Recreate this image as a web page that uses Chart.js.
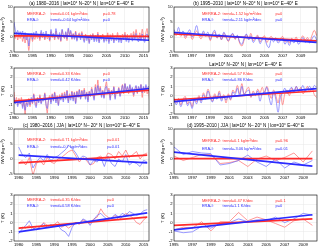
<!DOCTYPE html>
<html>
<head>
<meta charset="utf-8">
<script src="https://cdn.jsdelivr.net/npm/chart.js@4.4.0/dist/chart.umd.min.js"></script>
<style>
body { margin: 0; background: #fff; width: 320px; height: 247px; overflow: hidden; position: relative; }
canvas { position: absolute; }
</style>
</head>
<body>
<canvas id="aIwv" width="160" height="60" style="left:0;top:0"></canvas>
<canvas id="bIwv" width="160" height="60" style="left:160px;top:0"></canvas>
<canvas id="aT" width="160" height="61" style="left:0;top:61px"></canvas>
<canvas id="bT" width="160" height="61" style="left:160px;top:61px"></canvas>
<canvas id="cIwv" width="160" height="60" style="left:0;top:122px"></canvas>
<canvas id="dIwv" width="160" height="60" style="left:160px;top:122px"></canvas>
<canvas id="cT" width="160" height="59" style="left:0;top:188px"></canvas>
<canvas id="dT" width="160" height="59" style="left:160px;top:188px"></canvas>
<script>
// tick labels
var ticks1980 = [1980, 1985, 1990, 1995, 2000, 2005, 2010, 2015];
var ticks1995 = [1995, 1997, 1999, 2001, 2003, 2005, 2007, 2009];
var ticksIwv = [-5, 0, 5, 10];
var ticksT = [-2, -1, 0, 1, 2, 3];

// (a) 1980-2016, 3 values per year, IWV anomalies (kg m-2)
var aIwvMerra = [0.5,-0.5,1.5, -1.0,0.8,-0.5, 1.2,-1.5,0.3, -2.0,0.5,-1.0, -4.5,-1.0,0.8, -1.5,0.2,-0.8,
  1.0,-0.5,0.6, -1.2,1.5,-0.3, 0.8,-1.0,1.2, -0.6,0.4,-1.4, 1.8,-0.2,0.9, -1.0,2.0,0.2,
  -0.8,1.0,-1.5, 2.2,0.3,-0.5, 1.5,-1.2,2.5, 0.5,1.8,-0.8, 1.2,-0.4,2.0, -1.0,0.6,1.4,
  -0.5,1.8,0.2, -1.2,1.0,-0.6, 0.4,-1.8,0.8, -0.5,1.2,-1.0, 0.6,-0.8,1.6, -1.5,0.5,-0.2,
  1.0,-1.2,0.3, -0.8,1.4,-1.5, 0.8,-0.6,1.2, -1.4,0.5,-0.5, 1.5,-1.0,0.6, -1.2,1.0,-0.4,
  1.6,-0.8,0.9, -1.0,0.4,1.2, -0.6,1.8,-0.3, 2.5,0.2,-0.8, 1.4,-0.5,2.6, 0.3,-1.0,1.5, 2.8,-0.4,0.6];
var aIwvEra = [5.0,2.5,1.0, 2.2,0.5,1.8, 0.8,2.0,-0.5, 1.5,-1.0,0.8, -3.0,0.5,1.2, -0.8,1.5,0.2,
  2.0,0.4,1.0, -0.5,2.2,0.8, 1.5,-0.5,2.0, 0.2,1.0,-1.0, 2.5,0.5,1.2, -0.4,2.8,0.6,
  -0.5,1.5,-1.2, 2.6,0.8,-0.2, 1.8,-0.6,3.0, 0.8,2.2,-0.5, 1.0,-0.8,1.6, -1.4,0.2,1.0,
  -1.0,1.2,-0.5, -1.8,0.6,-1.2, 0.0,-2.2,0.4, -1.0,0.8,-1.6, 0.2,-1.5,1.0, -2.0,-0.2,-0.8,
  0.4,-1.8,-0.4, -1.4,0.6,-2.2, 0.0,-1.2,0.5, -2.0,-0.3,-1.2, 0.6,-1.8,-0.2, -2.0,0.2,-1.0,
  0.8,-1.5,0.0, -1.8,-0.4,0.4, -1.4,0.8,-1.0, 1.2,-0.8,-1.6, 0.4,-1.2,1.0, -0.6,-1.8,0.5, 1.0,-1.0,-0.4];
var aIwvTrendMerra = [0.4, 0.2];
var aIwvTrendEra = [1.2, -1.1];

// (a) T anomalies (K)
var aTMerra = [0.4,-0.8,-0.2, -1.0,-0.3,-0.9, -0.2,-1.2,-0.5, -2.0,-0.6,-1.0, -0.3,-1.2,-0.4, -0.9,0.2,-0.6,
  -1.1,-0.2,-0.7, 0.1,-0.8,-0.3, -0.5,0.3,-1.0, -1.9,-0.4,0.0, -0.7,0.2,-0.5, 0.4,-0.6,0.0,
  -1.0,0.1,-0.4, 0.3,-0.5,0.4, -0.2,0.6,-0.6, 0.2,-0.3,0.5, -0.4,0.4,-0.8, 0.5,0.0,0.7,
  -0.3,0.6,0.1, 0.8,-0.2,0.4, -0.5,0.5,0.0, 0.9,0.2,-0.3, 1.2,0.3,1.7, 0.5,1.0,0.0,
  0.6,-0.2,0.9, 1.5,0.4,0.8, -0.3,0.6,0.2, 1.0,-0.2,0.5, 0.3,0.9,0.0, 0.6,1.2,0.2,
  1.3,0.5,0.9, 0.2,1.1,0.4, 0.8,-0.1,0.6, 1.0,0.2,0.9, 0.4,1.2,-0.2, 0.9,0.3,1.0, 0.2,0.6,-0.6];
var aTEra = [-0.2,-0.9,-0.5, -1.2,-0.6,-0.9, -0.5,-1.4,-0.7, -1.6,-0.8,-1.2, -0.4,-1.0,-0.2, -0.8,0.1,-0.9,
  -1.3,-0.3,-0.8, -0.1,-0.9,-0.5, -0.6,0.2,-1.0, -1.4,-0.5,-0.2, -0.9,0.1,-0.6, 0.3,-0.8,-0.2,
  -1.1,-0.1,-0.5, 0.1,-0.7,0.2, -0.4,0.5,-0.8, 0.0,-0.5,0.4, -0.6,0.3,-0.9, 0.4,-0.2,0.6,
  -0.4,0.5,0.0, 0.6,-0.4,0.3, -0.7,0.4,-0.1, 0.7,0.1,-0.5, 0.9,0.1,1.1, 0.3,0.8,-0.2,
  0.5,-0.3,0.8, 1.0,0.2,0.6, -0.5,0.5,0.1, 0.9,-0.4,0.4, 0.2,0.8,-0.1, 0.5,1.1,0.3,
  1.3,0.6,1.0, 0.4,1.2,0.5, 0.9,0.1,0.7, 1.1,0.3,1.0, 0.6,1.2,0.3, 1.0,0.5,1.2, 0.7,1.0,0.8];
var aTTrendMerra = [-0.6, 0.6];
var aTTrendEra = [-0.75, 0.78];

// (b) 1995-2010, 4 values per year
var bIwvMerra = [1.5,0.5,1.8,0.2, 1.2,-0.5,0.8,1.5, -0.8,0.6,2.0,0.4, -0.6,1.4,0.2,1.0,
  -1.2,0.8,1.6,-0.4, 0.6,-1.0,1.2,0.2, -1.5,0.0,1.0,-0.8, 0.4,-2.0,-3.0,-1.0,
  0.8,-0.5,1.2,-1.2, -0.2,0.6,-1.6,-0.4, 0.4,-1.8,-0.6,0.2, -1.0,-0.2,-1.4,-0.6,
  0.2,-1.6,-0.8,-2.0, -0.4,-1.2,0.0,-1.6, -0.6,0.4,-1.0,-0.2, -1.2,0.6,2.2,0.5];
var bIwvEra = [2.5,1.0,3.2,0.8, 2.0,0.2,1.4,2.4, 0.0,1.5,3.8,1.0, 0.2,2.0,0.8,1.6,
  -0.8,1.2,2.2,-0.2, 1.0,-0.8,1.6,0.0, -1.2,0.4,1.2,-0.6, 0.6,-1.6,-2.4,-0.4,
  1.0,-1.0,0.4,-1.8, -0.8,0.2,-2.2,-1.0, -0.4,-2.6,-3.5,-0.8, -1.6,-0.6,-2.0,-1.2,
  -0.4,-2.4,-1.4,-2.8, -1.0,-2.0,-0.6,-2.4, -1.4,-0.2,-1.8,-0.8, -2.0,-0.6,0.4,-1.0];
var bIwvTrendMerra = [1.0, -1.3];
var bIwvTrendEra = [1.5, -1.8];

var bTMerra = [-0.2,-0.8,-0.3,-1.0, -0.4,-0.1,-0.9,-0.5, -1.2,-0.3,-0.7,0.0, -0.6,0.3,-0.2,0.7,
  0.0,-0.6,0.2,-0.3, 0.5,-0.4,0.1,-0.8, 0.2,-0.5,0.6,0.3, 1.1,0.2,1.3,0.0,
  0.6,0.9,-0.2,0.5, 0.1,0.7,0.3,0.9, 0.2,1.0,0.4,-0.3, 0.6,0.0,-0.8,0.3,
  -1.0,0.2,0.6,0.0, 0.8,0.3,1.0,0.4, 0.9,0.2,0.6,1.0, 0.4,0.8,0.1,-0.2];
var bTEra = [-0.4,-1.0,-0.5,-1.2, -0.6,-0.3,-1.1,-0.7, -1.4,-0.5,-0.9,-0.2, -0.8,0.1,-0.4,0.5,
  -0.2,-0.7,0.0,-0.4, 0.3,-0.6,-0.1,-0.5, 0.0,-0.4,0.4,0.1, 0.8,0.0,1.0,0.2,
  0.4,0.6,-0.1,0.3, 0.0,0.5,-0.6,0.2, 0.4,0.9,-0.2,-1.0, 0.4,-0.4,-1.8,-0.2,
  0.3,0.8,0.2,0.6, 0.9,0.4,1.0,0.6, 0.7,1.1,0.5,0.8, 1.0,0.6,1.1,0.9];
var bTTrendMerra = [-0.45, 0.5];
var bTTrendEra = [-0.65, 0.75];

// (c) JJA 1980-2016, one value per year
var cIwvMerra = [-1.5,-0.5,-2.0,0.5,-5.5,-1.5,-0.5,-2.0,0.5,-1.0,-1.5,0.0,0.5,1.5,2.5,3.0,1.0,-1.0,0.5,
  -0.5,-2.0,-1.5,0.5,1.0,-0.5,2.0,1.5,0.0,2.5,1.0,3.0,0.5,1.5,2.5,0.0,1.5,2.0];
var cIwvEra = [4.0,1.5,0.5,2.0,-3.0,-1.0,0.5,-0.5,1.5,-0.5,0.5,1.0,2.0,3.0,4.5,3.5,2.0,0.0,1.0,
  0.5,-2.0,-0.5,-1.0,0.5,-2.5,1.0,-1.5,-2.5,0.0,-1.0,1.5,-2.0,-1.0,-1.5,-2.5,-0.5,-1.0];
var cIwvTrendMerra = [-1.3, 1.3];
var cIwvTrendEra = [1.3, -1.3];

var cTMerra = [-0.7,-0.5,-0.6,-0.3,-0.8,-0.4,-0.5,0.0,-0.3,-0.4,-0.2,0.1,-0.5,-0.3,-0.6,-0.3,0.0,-0.2,0.3,
  0.1,-0.1,0.4,0.6,1.5,0.9,0.6,0.4,0.8,0.3,0.6,1.0,0.8,0.5,0.0,-0.2,0.3,0.6];
var cTEra = [-1.2,-0.7,-0.3,0.2,-0.6,-0.8,-0.4,-0.1,-0.5,-0.2,-0.4,-0.3,-0.8,-1.0,-1.5,-0.5,0.0,-0.1,0.4,
  0.2,-0.3,0.3,0.8,1.0,0.6,0.3,0.5,0.9,0.6,1.0,0.8,1.2,1.0,0.8,0.9,1.3,1.4];
var cTTrendMerra = [-0.6, 0.6];
var cTTrendEra = [-1.0, 1.05];

// (d) JJA 1995-2010, one value per year
var dIwvMerra = [1.0,-0.5,0.5,1.5,1.5,-1.5,-1.2,-0.5,-2.5,0.0,1.0,-0.5,0.5,2.0,-1.0,2.7];
var dIwvEra = [4.0,1.5,2.5,2.0,1.8,-2.0,-1.5,-0.5,1.3,-1.0,-2.5,0.0,-3.0,-1.0,-2.0,-0.5];
var dIwvTrendMerra = [0.1, 0.1];
var dIwvTrendEra = [2.3, -2.4];

var dTMerra = [-0.8,-0.5,-0.6,0.1,-0.9,0.1,0.1,1.1,0.2,0.6,0.3,-0.1,-0.5,0.2,0.4,-0.3];
var dTEra = [-0.9,-1.1,-1.0,-0.4,-0.6,-0.1,0.0,0.4,0.1,0.3,0.2,0.6,0.0,0.4,1.0,0.8];
var dTTrendMerra = [-0.3, 0.4];
var dTTrendEra = [-0.8, 0.85];

var RED = '#ff2b2b', BLUE = '#2b2bff';
var FONT = '"Liberation Sans", Arial, sans-serif';

function series(start, perYear, values) {
	return values.map(function (v, i) { return { x: start + i / perYear, y: v }; });
}

var panelText = {
	id: 'panelText',
	afterDraw: function (chart, args, o) {
		var ctx = chart.ctx, a = chart.chartArea;
		var w = a.right - a.left, h = a.bottom - a.top;
		ctx.save();
		ctx.strokeStyle = '#000';
		ctx.lineWidth = 0.6;
		ctx.strokeRect(a.left, a.top, w, h);
		ctx.font = '4px ' + FONT;
		ctx.textBaseline = 'middle';
		ctx.textAlign = 'left';
		(o.rows || []).forEach(function (r) {
			ctx.fillStyle = r.color;
			ctx.fillText(r.name, a.left + o.cols[0] * w, a.top + r.y * h);
			ctx.fillText(r.trend, a.left + o.cols[1] * w, a.top + r.y * h);
			ctx.fillText(r.p, a.left + o.cols[2] * w, a.top + r.y * h);
		});
		if (o.title) {
			ctx.fillStyle = '#000';
			ctx.textAlign = 'center';
			ctx.textBaseline = 'bottom';
			ctx.font = '4.6px ' + FONT;
			ctx.fillText(o.title, a.left + w / 2, a.top - 1);
		}
		ctx.restore();
	}
};

function panel(id, p) {
	var t0 = p.data[0][0].x, t1 = p.data[0][p.data[0].length - 1].x;
	new Chart(document.getElementById(id), {
		type: 'line',
		data: {
			datasets: [
				{ data: p.data[0], borderColor: 'rgba(255,100,100,0.95)', borderWidth: 0.7, pointRadius: 0, tension: p.tension, order: 4 },
				{ data: p.data[1], borderColor: 'rgba(100,100,255,0.95)', borderWidth: 0.7, pointRadius: 0, tension: p.tension, order: 3 },
				{ data: [{ x: t0, y: p.trendM[0] }, { x: t1, y: p.trendM[1] }], borderColor: RED, borderWidth: 1.7, pointRadius: 0, order: 2 },
				{ data: [{ x: t0, y: p.trendE[0] }, { x: t1, y: p.trendE[1] }], borderColor: BLUE, borderWidth: 1.7, pointRadius: 0, order: 1 }
			]
		},
		options: {
			responsive: false,
			animation: false,
			events: [],
			layout: { padding: { top: 7, right: p.right, left: 0, bottom: 0 } },
			plugins: {
				legend: { display: false },
				tooltip: { enabled: false },
				panelText: { title: p.title, rows: p.rows, cols: p.cols }
			},
			scales: {
				x: {
					type: 'linear', min: p.xMin, max: p.xMax,
					afterFit: function (s) { s.height = p.xH; },
					afterBuildTicks: function (s) { s.ticks = p.xTicks.map(function (v) { return { value: v }; }); },
					ticks: { font: { size: 4.2, family: FONT }, color: '#000', padding: 1, maxRotation: 0, autoSkip: false,
						callback: function (v) { return String(v); } },
					grid: { color: '#e6e6e6', lineWidth: 0.5, drawTicks: false },
					border: { display: false }
				},
				y: {
					min: p.yTicks[0], max: p.yTicks[p.yTicks.length - 1],
					afterFit: function (s) { s.width = 14; },
					afterBuildTicks: function (s) { s.ticks = p.yTicks.map(function (v) { return { value: v }; }); },
					ticks: { font: { size: 4.2, family: FONT }, color: '#000', padding: 1.5 },
					grid: { color: '#e6e6e6', lineWidth: 0.5, drawTicks: false },
					border: { display: false },
					title: { display: true, text: p.yLabel, font: { size: 4.4, family: FONT }, color: '#000', padding: 0 }
				}
			}
		},
		plugins: [panelText]
	});
}

var colsA = [0.096, 0.27, 0.66];
var colsB = [0.195, 0.34, 0.71];
var IWV = 'IWV (kg m\u207B\u00B2)';

panel('aIwv', {
	data: [series(1980, 3, aIwvMerra), series(1980, 3, aIwvEra)], trendM: aIwvTrendMerra, trendE: aIwvTrendEra,
	xMin: 1980, xMax: 2016.5, xTicks: ticks1980, yTicks: ticksIwv, yLabel: IWV, right: 11, xH: 8, tension: 0.3,
	title: '(a) 1980\u20132016 | lat=10\u00B0 N\u201320\u00B0 N | lon=10\u00B0 E\u201340\u00B0 E', cols: colsA,
	rows: [{ color: RED, y: 0.16, name: 'MERRA-2:', trend: 'trend=0.01 kg/m\u00B2/dec', p: 'p=0.78' },
		{ color: BLUE, y: 0.28, name: 'ERA-I:', trend: 'trend=-0.64 kg/m\u00B2/dec', p: 'p=0' }]
});
panel('bIwv', {
	data: [series(1995, 4, bIwvMerra), series(1995, 4, bIwvEra)], trendM: bIwvTrendMerra, trendE: bIwvTrendEra,
	xMin: 1995, xMax: 2010.8, xTicks: ticks1995, yTicks: ticksIwv, yLabel: IWV, right: 3, xH: 8, tension: 0.4,
	title: '(b) 1995\u20132010 | lat=10\u00B0 N\u201320\u00B0 N | lon=10\u00B0 E\u201340\u00B0 E', cols: colsB,
	rows: [{ color: RED, y: 0.16, name: 'MERRA-2:', trend: 'trend=-1.52 kg/m\u00B2/dec', p: 'p=0' },
		{ color: BLUE, y: 0.28, name: 'ERA-I:', trend: 'trend=-2.11 kg/m\u00B2/dec', p: 'p=0' }]
});
panel('aT', {
	data: [series(1980, 3, aTMerra), series(1980, 3, aTEra)], trendM: aTTrendMerra, trendE: aTTrendEra,
	xMin: 1980, xMax: 2016.5, xTicks: ticks1980, yTicks: ticksT, yLabel: 'T (K)', right: 11, xH: 8, tension: 0.3,
	title: '', cols: colsA,
	rows: [{ color: RED, y: 0.13, name: 'MERRA-2:', trend: 'trend=0.33 K/dec', p: 'p=0' },
		{ color: BLUE, y: 0.25, name: 'ERA-I:', trend: 'trend=0.42 K/dec', p: 'p=0' }]
});
panel('bT', {
	data: [series(1995, 4, bTMerra), series(1995, 4, bTEra)], trendM: bTTrendMerra, trendE: bTTrendEra,
	xMin: 1995, xMax: 2010.8, xTicks: ticks1995, yTicks: ticksT, yLabel: 'T (K)', right: 3, xH: 8, tension: 0.4,
	title: 'Lat=10\u00B0 N\u201320\u00B0 N | lon=10\u00B0 E\u201340\u00B0 E', cols: colsB,
	rows: [{ color: RED, y: 0.13, name: 'MERRA-2:', trend: 'trend=0.57 K/dec', p: 'p=0' },
		{ color: BLUE, y: 0.25, name: 'ERA-I:', trend: 'trend=0.86 K/dec', p: 'p=0' }]
});
panel('cIwv', {
	data: [series(1980, 1, cIwvMerra), series(1980, 1, cIwvEra)], trendM: cIwvTrendMerra, trendE: cIwvTrendEra,
	xMin: 1978.7, xMax: 2016.5, xTicks: ticks1980, yTicks: ticksIwv, yLabel: IWV, right: 11, xH: 8, tension: 0,
	title: '(c) 1980\u20132016 | JJA | lat=10\u00B0 N\u2013 20\u00B0 N | lon=10\u00B0 E\u201340\u00B0 E', cols: [0.096, 0.27, 0.69],
	rows: [{ color: RED, y: 0.24, name: 'MERRA-2:', trend: 'trend=0.71 kg/m\u00B2/dec', p: 'p=0.01' },
		{ color: BLUE, y: 0.40, name: 'ERA-I:', trend: 'trend=-0.7 kg/m\u00B2/dec', p: 'p=0.01' }]
});
panel('dIwv', {
	data: [series(1995, 1, dIwvMerra), series(1995, 1, dIwvEra)], trendM: dIwvTrendMerra, trendE: dIwvTrendEra,
	xMin: 1995, xMax: 2010.5, xTicks: ticks1995, yTicks: ticksIwv, yLabel: IWV, right: 3, xH: 8, tension: 0,
	title: '(d) 1995\u20132010 | JJA | lat=10\u00B0 N\u2013 20\u00B0 N | lon=10\u00B0 E\u201340\u00B0 E', cols: colsB,
	rows: [{ color: RED, y: 0.27, name: 'MERRA-2:', trend: 'trend=0.1 kg/m\u00B2/dec', p: 'p=0.96' },
		{ color: BLUE, y: 0.44, name: 'ERA-I:', trend: 'trend=-3.06 kg/m\u00B2/dec', p: 'p=0.01' }]
});
panel('cT', {
	data: [series(1980, 1, cTMerra), series(1980, 1, cTEra)], trendM: cTTrendMerra, trendE: cTTrendEra,
	xMin: 1978.7, xMax: 2016.5, xTicks: ticks1980, yTicks: ticksT, yLabel: 'T (K)', right: 11, xH: 6, tension: 0,
	title: '', cols: [0.096, 0.27, 0.69],
	rows: [{ color: RED, y: 0.10, name: 'MERRA-2:', trend: 'trend=0.35 K/dec', p: 'p=0' },
		{ color: BLUE, y: 0.24, name: 'ERA-I:', trend: 'trend=0.58 K/dec', p: 'p=0' }]
});
panel('dT', {
	data: [series(1995, 1, dTMerra), series(1995, 1, dTEra)], trendM: dTTrendMerra, trendE: dTTrendEra,
	xMin: 1995, xMax: 2010.5, xTicks: ticks1995, yTicks: ticksT, yLabel: 'T (K)', right: 3, xH: 6, tension: 0,
	title: '', cols: colsB,
	rows: [{ color: RED, y: 0.13, name: 'MERRA-2:', trend: 'trend=0.47 K/dec', p: 'p=0.1' },
		{ color: BLUE, y: 0.24, name: 'ERA-I:', trend: 'trend=1.1 K/dec', p: 'p=0' }]
});
</script>
</body>
</html>
